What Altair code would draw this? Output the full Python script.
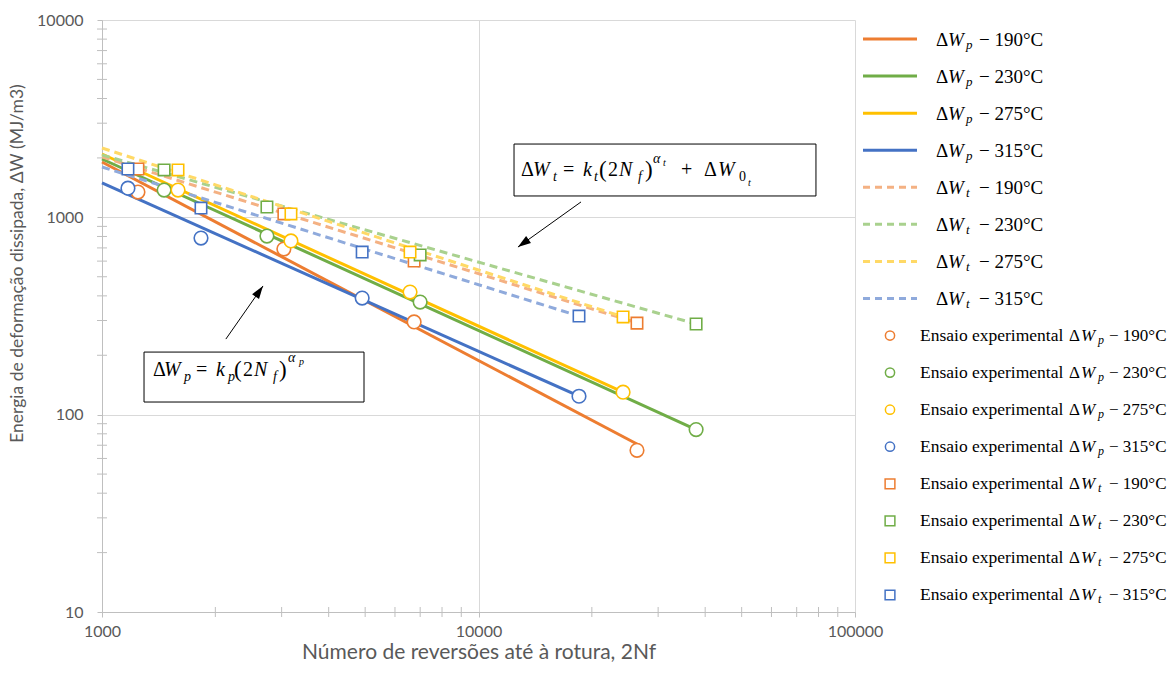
import math
import altair as alt
import pandas as pd

# Plot-area size in pixels
W, H = 753, 592

temps = ["190°C", "230°C", "275°C", "315°C"]
solid_colors = ["#ED7D31", "#70AD47", "#FFC000", "#4472C4"]
dash_colors = ["#F4B183", "#A9D18E", "#FFD966", "#8FAADC"]

# Reversals to failure 2Nf of each specimen
n_190 = [1246, 3041, 6745, 26360]
n_230 = [1462, 2742, 6998, 37840]
n_275 = [1592, 3176, 6579, 24210]
n_315 = [1172, 1832, 4909, 18490]

# Dissipated plastic strain energy per cycle, ΔWp (MJ/m3)
wp_190 = [1343, 691, 295, 66]
wp_230 = [1374, 804, 372, 84]
wp_275 = [1374, 759, 418, 130]
wp_315 = [1406, 785, 390, 124]

# Dissipated total strain energy per cycle, ΔWt (MJ/m3)
wt_190 = [1758, 1040, 600, 291]
wt_230 = [1738, 1128, 645, 288]
wt_275 = [1738, 1040, 667, 313]
wt_315 = [1758, 1114, 667, 316]

# Fitted energy laws at 2Nf = 1000 and at the last specimen of each series
fit_n0 = 1000
wp_fit_first = [1907, 1975, 2094, 1493]
wp_fit_last = [71, 84, 130, 124]
wt_fit_first = [2024, 2070, 2245, 1799]
wt_fit_last = [292, 288, 313, 316]

n_all = [n_190, n_230, n_275, n_315]
wp_all = [wp_190, wp_230, wp_275, wp_315]
wt_all = [wt_190, wt_230, wt_275, wt_315]

exp_rows, fit_rows = [], []
for i, t in enumerate(temps):
    for n, wp, wt in zip(n_all[i], wp_all[i], wt_all[i]):
        exp_rows.append({"temp": t, "n": n, "wp": wp, "wt": wt, "col": solid_colors[i]})
    last = n_all[i][-1]
    fit_rows += [
        {"temp": t, "kind": "p", "n": fit_n0, "w": wp_fit_first[i], "col": solid_colors[i]},
        {"temp": t, "kind": "p", "n": last, "w": wp_fit_last[i], "col": solid_colors[i]},
        {"temp": t, "kind": "t", "n": fit_n0, "w": wt_fit_first[i], "col": dash_colors[i]},
        {"temp": t, "kind": "t", "n": last, "w": wt_fit_last[i], "col": dash_colors[i]},
    ]
exp_df = pd.DataFrame(exp_rows)
fit_df = pd.DataFrame(fit_rows)

# ---- scales and axes -------------------------------------------------------
xscale = alt.Scale(type="log", domain=[1000, 100000], nice=False, padding=0)
yscale = alt.Scale(type="log", domain=[10, 10000], nice=False, padding=0)

GREY_TXT = "#595959"
x_axis = alt.Axis(
    values=[1000, 10000, 100000], format="d", labelFlush=False,
    title="Número de reversões até à rotura, 2Nf",
    grid=True, gridColor="#D9D9D9", domainColor="#BFBFBF", tickColor="#BFBFBF",
    tickSize=5, labelFont="Lato", labelFontSize=16, labelColor=GREY_TXT, labelPadding=6,
    titleFont="Lato", titleFontSize=21, titleFontWeight="normal", titleColor=GREY_TXT,
    titlePadding=2,
)
y_axis = alt.Axis(
    values=[10, 100, 1000, 10000], format="d", labelFlush=False,
    title="Energia de deformação dissipada, ΔW (MJ/m3)",
    grid=True, gridColor="#D9D9D9", domainColor="#BFBFBF", tickColor="#BFBFBF",
    tickSize=5, labelFont="Lato", labelFontSize=16, labelColor=GREY_TXT, labelPadding=14,
    titleFont="Lato", titleFontSize=17.5, titleFontWeight="normal", titleColor=GREY_TXT,
    titlePadding=10, titleY=243,
)
X = alt.X("n:Q", scale=xscale, axis=x_axis)
Y = alt.Y("w:Q", scale=yscale, axis=y_axis)

# ---- minor tick marks crossing the axes -------------------------------------
minor_x = [k * 10 ** d for d in (3, 4) for k in range(2, 10)]
minor_y = [k * 10 ** d for d in (1, 2, 3) for k in range(2, 10)]
ticks_y = alt.Chart(pd.DataFrame({"w": minor_y})).mark_tick(
    orient="horizontal", size=10, thickness=1, color="#BFBFBF", opacity=1
).encode(y=Y, x=alt.value(0))
ticks_x = alt.Chart(pd.DataFrame({"n": minor_x})).mark_tick(
    orient="vertical", size=10, thickness=1, color="#BFBFBF", opacity=1
).encode(x=X, y=alt.value(H))

# ---- fitted curves ----------------------------------------------------------
solid_lines = alt.Chart(fit_df[fit_df.kind == "p"]).mark_line(strokeWidth=3).encode(
    x=X, y=Y, color=alt.Color("col:N", scale=None), detail="temp:N", order="n:Q"
)
dash_lines = alt.Chart(fit_df[fit_df.kind == "t"]).mark_line(
    strokeWidth=3, strokeDash=[8, 5]
).encode(x=X, y=Y, color=alt.Color("col:N", scale=None), detail="temp:N", order="n:Q")

# ---- experimental points ----------------------------------------------------
squares = alt.Chart(exp_df).mark_point(
    shape="square", filled=True, fill="white", size=130, strokeWidth=1.6, opacity=1
).encode(x=X, y=alt.Y("wt:Q", scale=yscale, axis=y_axis), stroke=alt.Stroke("col:N", scale=None))
circles = alt.Chart(exp_df).mark_point(
    shape="circle", filled=True, fill="white", size=185, strokeWidth=1.6, opacity=1
).encode(x=X, y=alt.Y("wp:Q", scale=yscale, axis=y_axis), stroke=alt.Stroke("col:N", scale=None))

# ---- annotation boxes with the energy laws ----------------------------------
SERIF = "Liberation Serif"
box_t = {"n": 12426, "w": 2352, "n2": 78760, "w2": 1283, "base": 1620}
box_p = {"n": 1293, "w": 207.6, "n2": 4965, "w2": 115.9, "base": 157}

boxes = alt.Chart(pd.DataFrame([box_t, box_p])).mark_rect(
    fill="white", stroke="black", strokeWidth=1
).encode(x=X, x2="n2:Q", y=Y, y2="w2:Q")


def formula(box, pieces):
    anchor = pd.DataFrame([{"n": box["n"], "w": box["base"]}])
    layers = []
    for txt, dx, dy, size, italic in pieces:
        layers.append(
            alt.Chart(anchor).mark_text(
                text=txt, dx=dx, dy=dy, fontSize=size, font=SERIF,
                fontStyle="italic" if italic else "normal",
                align="left", baseline="alphabetic", color="black",
            ).encode(x=X, y=Y)
        )
    return layers


formula_t = formula(box_t, [
    ("Δ", 7, 0, 20, False), ("W", 19, 0, 20, True), ("t", 39, 5, 14, True),
    ("=", 49, 0, 20, False), ("k", 69, 0, 20, True), ("t", 80, 5, 14, True),
    ("(", 85, 1, 23, False), ("2", 94, 0, 20, False), ("N", 105, 0, 20, True),
    ("f", 124, 5, 14, True), (")", 131, 1, 23, False), ("α", 139, -13, 14, True),
    ("t", 149, -10, 10, True), ("+", 167, 0, 20, False), ("Δ", 190, 0, 20, False),
    ("W", 204, 0, 20, True), ("0", 225, 5, 14, False), ("t", 234, 10, 10, True),
])
formula_p = formula(box_p, [
    ("Δ", 9, 0, 20, False), ("W", 20, 0, 20, True), ("p", 40, 5, 14, True),
    ("=", 52, 0, 20, False), ("k", 72, 0, 20, True), ("p", 84, 5, 14, True),
    ("(", 90, 1, 23, False), ("2", 99, 0, 20, False), ("N", 110, 0, 20, True),
    ("f", 129, 5, 14, True), (")", 135, 1, 23, False), ("α", 144, -14, 14, True),
    ("p", 155, -11, 10, True),
])

# ---- arrows pointing at each family of curves --------------------------------
arrows = pd.DataFrame({
    "n": [18720, 2133], "w": [1197, 241.6],
    "n2": [12730, 2677], "w2": [707, 449],
})


def to_px(n, w):
    return W * (math.log10(n) - 3) / 2, H * (4 - math.log10(w)) / 3


angles = []
for r in arrows.itertuples():
    x0, y0 = to_px(r.n, r.w)
    x1, y1 = to_px(r.n2, r.w2)
    angles.append(math.degrees(math.atan2(x1 - x0, -(y1 - y0))) % 360)
arrows["ang"] = angles

arrow_lines = alt.Chart(arrows).mark_rule(color="black", strokeWidth=1).encode(
    x=X, x2="n2:Q", y=Y, y2="w2:Q"
)
arrow_heads = alt.Chart(arrows).mark_point(
    shape="M0,0L0.42,1.3L-0.42,1.3Z", filled=True, color="black", size=400, opacity=1
).encode(
    x=alt.X("n2:Q", scale=xscale, axis=x_axis),
    y=alt.Y("w2:Q", scale=yscale, axis=y_axis),
    angle=alt.Angle("ang:Q", scale=None),
)

main = alt.layer(
    ticks_y, ticks_x, solid_lines, dash_lines, squares, circles,
    boxes, *formula_t, *formula_p, arrow_lines, arrow_heads,
)

# ---- legend ---------------------------------------------------------------
leg_rows = []
for grp, sub, cols in [("line", "p", solid_colors), ("line", "t", dash_colors),
                       ("mark", "p", solid_colors), ("mark", "t", solid_colors)]:
    for t, c in zip(temps, cols):
        leg_rows.append({"key": f"{grp}-{sub}-{t}", "grp": grp, "sub": sub,
                         "tail": f"− {t}", "col": c})
leg_df = pd.DataFrame(leg_rows)
leg_keys = list(leg_df.key)
LY = alt.Y("key:N", scale=alt.Scale(type="point", domain=leg_keys, range=[19, 575], padding=0),
           axis=None)
leg_color = alt.Color("col:N", scale=None)


def subset(grp, sub=None):
    d = leg_df[leg_df.grp == grp]
    return d if sub is None else d[d["sub"] == sub]


leg_solid = alt.Chart(subset("line", "p")).mark_rule(strokeWidth=3).encode(
    x=alt.value(761), x2=alt.value(815), y=LY, color=leg_color)
leg_dash = alt.Chart(subset("line", "t")).mark_rule(strokeWidth=3, strokeDash=[7, 5]).encode(
    x=alt.value(761), x2=alt.value(815), y=LY, color=leg_color)
leg_circ = alt.Chart(subset("mark", "p")).mark_point(
    shape="circle", filled=True, fill="white", size=85, strokeWidth=1.5, opacity=1
).encode(x=alt.value(788), y=LY, stroke=alt.Stroke("col:N", scale=None))
leg_sq = alt.Chart(subset("mark", "t")).mark_point(
    shape="square", filled=True, fill="white", size=95, strokeWidth=1.5, opacity=1
).encode(x=alt.value(788), y=LY, stroke=alt.Stroke("col:N", scale=None))


def leg_text(grp, x, dy, size, italic=False, text=None, field=None):
    enc = {"x": alt.value(x), "y": LY}
    props = dict(dy=dy, fontSize=size, font=SERIF, align="left", baseline="alphabetic",
                 color="black", fontStyle="italic" if italic else "normal")
    if text is not None:
        props["text"] = text
    else:
        enc["text"] = alt.Text(f"{field}:N")
    return alt.Chart(subset(grp)).mark_text(**props).encode(**enc)


legend_layers = [
    leg_solid, leg_dash, leg_circ, leg_sq,
    leg_text("line", 834, 7, 19, text="Δ"),
    leg_text("line", 846, 7, 19, italic=True, text="W"),
    leg_text("line", 864, 10, 13, italic=True, field="sub"),
    leg_text("line", 877, 7, 19, field="tail"),
    leg_text("mark", 818, 5, 17.5, text="Ensaio experimental"),
    leg_text("mark", 967, 5, 17, text="Δ"),
    leg_text("mark", 979, 5, 17, italic=True, text="W"),
    leg_text("mark", 996, 8, 12, italic=True, field="sub"),
    leg_text("mark", 1007, 5, 17, field="tail"),
]
legend = alt.layer(*legend_layers)

chart = alt.layer(main, legend).resolve_scale(y="independent").properties(
    width=W, height=H,
    padding={"left": 8, "top": 12, "right": 2, "bottom": 2},
    background="white",
).configure_view(stroke=None)

chart.save("out.html", embed_options={"renderer": "svg", "actions": False})
